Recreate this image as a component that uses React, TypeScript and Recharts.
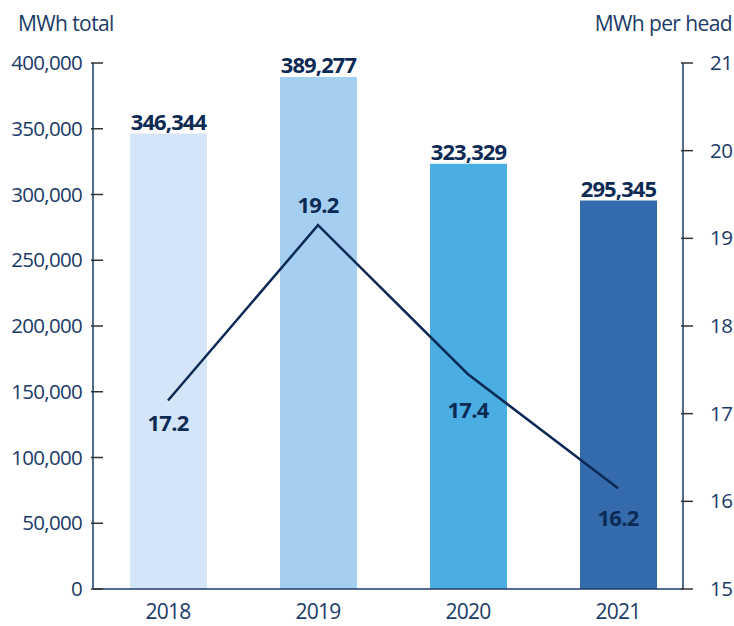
import { ComposedChart, Bar, Line, XAxis, YAxis, Cell, LabelList } from 'recharts';

const years = ['2018', '2019', '2020', '2021'];
const totalMWh = [346344, 389277, 323329, 295345];
const perHead = [17.15, 19.15, 17.45, 16.15];
const perHeadLabels = ['17.2', '19.2', '17.4', '16.2'];
const leftTicks = [0, 50000, 100000, 150000, 200000, 250000, 300000, 350000, 400000];
const rightTicks = [15, 16, 17, 18, 19, 20, 21];

const barColors = ['#d3e5f6', '#a5cff0', '#4aaee2', '#346bad'];
const NAVY = '#1a3a68';
const DARK = '#0d2a55';
const FONT = '"Open Sans", sans-serif';

const data = years.map((year, i) => ({
  year,
  total: totalMWh[i],
  perHead: perHead[i],
  label: perHeadLabels[i],
}));

// vertical offset of each per-head label from its point (centre of text)
const lineLabelDy = [22, -20, 36, 30];

function LeftTick(props: any) {
  const { x, y, payload } = props;
  return (
    <g>
      <line x1={x + 9} x2={x + 21} y1={y} y2={y} stroke="#333" strokeWidth={1.5} />
      <text x={x} y={y} dy={7} textAnchor="end" fill={NAVY} fontSize={20.5} letterSpacing={-0.7} fontFamily={FONT}>
        {payload.value.toLocaleString('en-US')}
      </text>
    </g>
  );
}

function RightTick(props: any) {
  const { x, y, payload } = props;
  return (
    <g>
      <line x1={x - 29} x2={x - 17} y1={y} y2={y} stroke="#333" strokeWidth={1.5} />
      <text x={x} y={y} dy={7} textAnchor="start" fill={NAVY} fontSize={20.5} letterSpacing={-0.5} fontFamily={FONT}>
        {payload.value}
      </text>
    </g>
  );
}

function YearTick(props: any) {
  const { x, payload } = props;
  return (
    <text x={x} y={619} textAnchor="middle" fill={NAVY} fontSize={21} letterSpacing={-0.8} fontFamily={FONT}>
      {payload.value}
    </text>
  );
}

function BarValue(props: any) {
  const { x, y, width, value } = props;
  return (
    <text x={x + width / 2} y={y - 4} textAnchor="middle" fill={DARK} fontSize={22} fontWeight={700} letterSpacing={-0.9} fontFamily={FONT}>
      {Number(value).toLocaleString('en-US')}
    </text>
  );
}

function PointValue(props: any) {
  const { x, y, index } = props;
  return (
    <text x={x} y={y + lineLabelDy[index]} dy={8} textAnchor="middle" fill={DARK} fontSize={22} fontWeight={700} letterSpacing={-0.8} fontFamily={FONT}>
      {perHeadLabels[index]}
    </text>
  );
}

export default function App() {
  return (
    <div style={{ position: 'absolute', left: 0, top: 0, width: 734, height: 626, background: '#fff', fontFamily: FONT }}>
      <div style={{ position: 'absolute', left: 18, top: 9, fontSize: 21, color: NAVY, letterSpacing: -0.6 }}>MWh total</div>
      <div style={{ position: 'absolute', right: 2, top: 9, fontSize: 21, color: NAVY, letterSpacing: -0.6 }}>MWh per head</div>
      <ComposedChart width={734} height={626} data={data} margin={{ top: 63, right: 0, bottom: 0, left: 0 }}>
        <XAxis
          dataKey="year"
          height={37}
          padding={{ left: 0, right: -10 }}
          axisLine={{ stroke: NAVY, strokeWidth: 1.5 }}
          tickLine={false}
          tick={<YearTick />}
        />
        <YAxis
          yAxisId="left"
          width={93}
          domain={[0, 400000]}
          ticks={leftTicks}
          interval={0}
          tickSize={0}
          tickMargin={11}
          tickLine={false}
          axisLine={{ stroke: NAVY, strokeWidth: 1.5 }}
          tick={<LeftTick />}
        />
        <YAxis
          yAxisId="right"
          orientation="right"
          width={51}
          domain={[15, 21]}
          ticks={rightTicks}
          interval={0}
          tickSize={0}
          tickMargin={27}
          tickLine={false}
          axisLine={{ stroke: NAVY, strokeWidth: 1.5 }}
          tick={<RightTick />}
        />
        <Bar yAxisId="left" dataKey="total" barSize={77} isAnimationActive={false}>
          {data.map((d, i) => (
            <Cell key={d.year} fill={barColors[i]} />
          ))}
          <LabelList dataKey="total" content={<BarValue />} />
        </Bar>
        <Line
          yAxisId="right"
          dataKey="perHead"
          type="linear"
          stroke={DARK}
          strokeWidth={2.5}
          dot={false}
          activeDot={false}
          isAnimationActive={false}
        >
          <LabelList dataKey="label" content={<PointValue />} />
        </Line>
      </ComposedChart>
    </div>
  );
}
